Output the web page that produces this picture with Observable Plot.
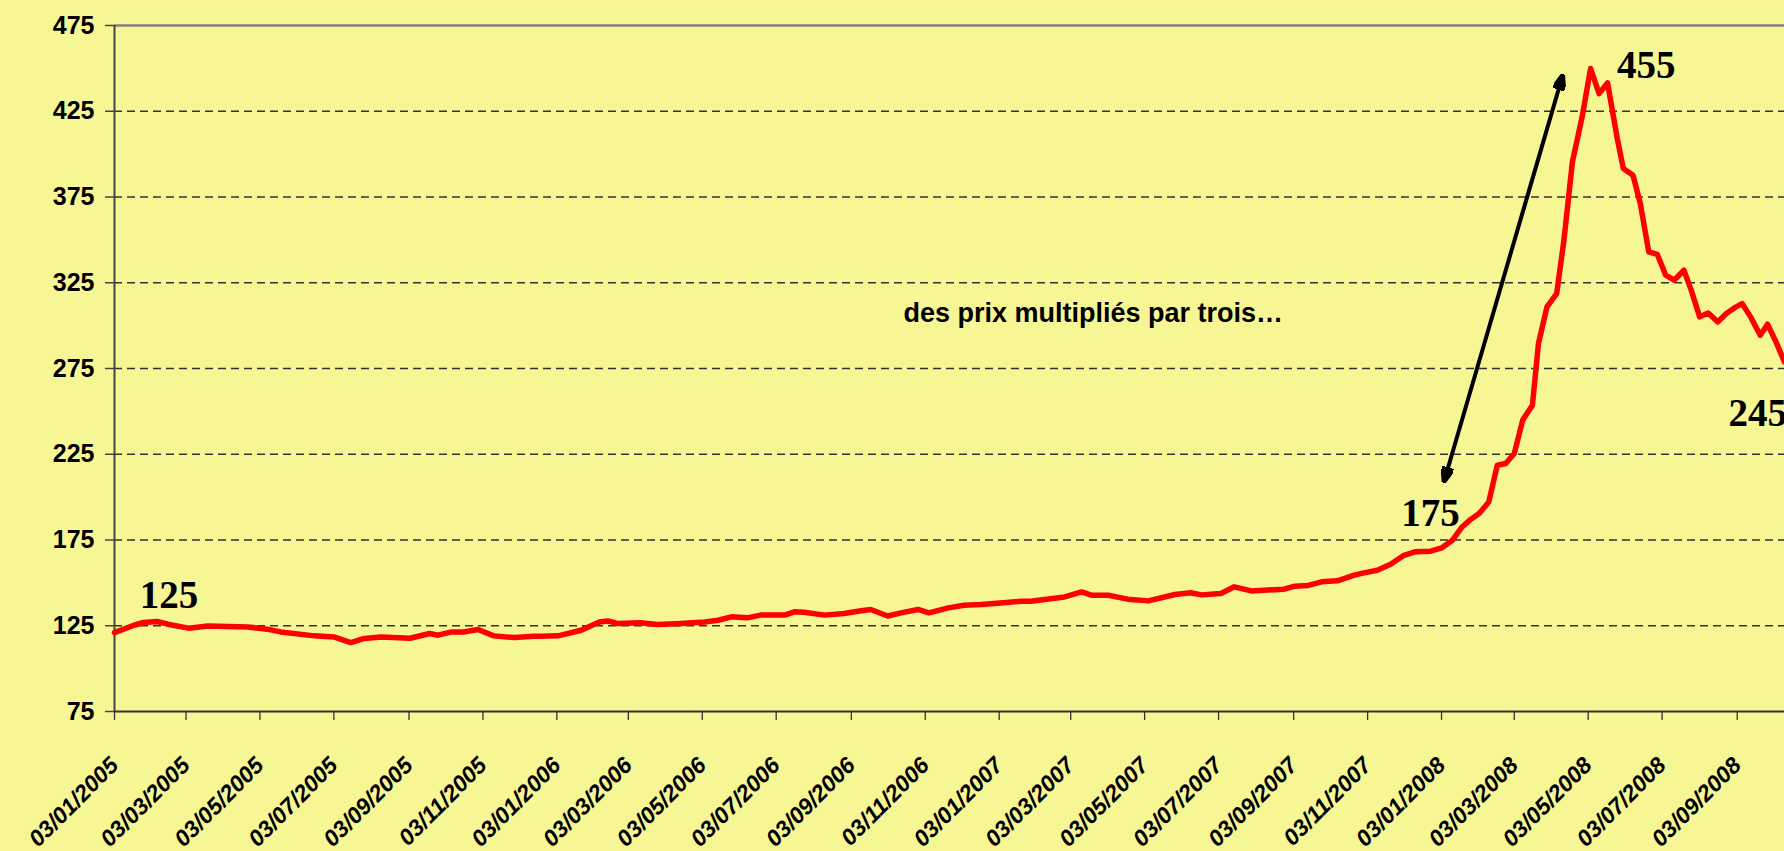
<!DOCTYPE html>
<html><head><meta charset="utf-8">
<script src="https://cdn.jsdelivr.net/npm/d3@7"></script>
<script src="https://cdn.jsdelivr.net/npm/@observablehq/plot@0.6"></script>
<style>
html,body{margin:0;padding:0;background:#F6F695;}
#chart svg{display:block;}
</style></head><body><div id="chart"></div>
<script>
// ---- data ----
const dates = [
"2005-01-03","2005-01-19","2005-01-27","2005-02-07","2005-02-16","2005-03-05","2005-03-21","2005-04-23",
"2005-05-09","2005-05-20","2005-06-17","2005-07-03","2005-07-17","2005-07-28","2005-08-11","2005-09-04",
"2005-09-20","2005-09-27","2005-10-08","2005-10-18","2005-10-30","2005-11-12","2005-11-29","2005-12-15",
"2005-12-21","2006-01-04","2006-01-23","2006-02-07","2006-02-14","2006-02-22","2006-03-13","2006-03-27",
"2006-04-15","2006-05-05","2006-05-16","2006-05-27","2006-06-09","2006-06-20","2006-07-10","2006-07-18",
"2006-07-26","2006-08-12","2006-08-28","2006-09-11","2006-09-19","2006-10-03","2006-10-14","2006-10-28",
"2006-11-06","2006-11-22","2006-12-05","2006-12-19","2007-01-04","2007-01-21","2007-01-29","2007-02-26",
"2007-03-12","2007-03-20","2007-04-03","2007-04-19","2007-05-06","2007-05-28","2007-06-10","2007-06-19",
"2007-07-05","2007-07-16","2007-07-30","2007-08-26","2007-09-04","2007-09-15","2007-09-26","2007-10-09",
"2007-10-23","2007-10-31","2007-11-11","2007-11-22","2007-12-03","2007-12-12","2007-12-25","2008-01-03",
"2008-01-12","2008-01-20","2008-01-27","2008-02-03","2008-02-11","2008-02-18","2008-02-25","2008-03-03",
"2008-03-10","2008-03-18","2008-03-23","2008-03-30","2008-04-07","2008-04-13","2008-04-20","2008-04-28",
"2008-05-05","2008-05-12","2008-05-19","2008-05-27","2008-06-01","2008-06-09","2008-06-15","2008-06-22",
"2008-06-29","2008-07-06","2008-07-13","2008-07-21","2008-07-27","2008-08-03","2008-08-10","2008-08-18",
"2008-08-25","2008-08-31","2008-09-07","2008-09-14","2008-09-22","2008-09-28","2008-10-05","2008-10-12"
];
const prices = [
121.0,125.3,126.9,127.5,125.9,123.6,124.9,124.3,
123.0,121.4,119.1,118.5,115.2,117.6,118.5,117.7,
120.5,119.5,121.4,121.4,122.8,119.1,118.1,118.9,
118.9,119.1,122.4,127.2,127.8,126.3,126.7,125.7,
126.3,127.2,128.2,130.2,129.6,131.2,131.2,133.1,
132.9,131.2,132.1,133.7,134.5,130.7,132.5,134.5,
132.5,135.4,137.0,137.4,138.3,139.3,139.3,141.8,
144.7,142.8,142.8,140.5,139.5,143.2,144.2,143.0,
143.8,147.7,145.3,146.3,148.1,148.5,150.6,151.2,
154.5,155.8,157.4,160.9,166.1,168.1,168.5,170.4,
174.9,182.6,187.0,190.4,197.2,218.6,219.6,225.4,
244.9,253.6,289.6,310.9,318.7,349.8,395.5,421.7,
449.9,435.3,441.5,409.1,391.6,387.7,371.2,343.0,
341.6,329.4,326.5,332.3,320.7,305.1,307.4,302.2,
307.1,310.0,312.9,305.1,294.4,300.8,290.5,278.8
];
const xDomain = ["2005-01-03","2008-10-12"];
const yDomain = [75, 475];
const yTicks = [75,125,175,225,275,325,375,425,475];
const gridValues = [125,175,225,275,325,375,425];
const xTicks = ["2005-01-03","2005-03-03","2005-05-03","2005-07-03","2005-09-03","2005-11-03",
"2006-01-03","2006-03-03","2006-05-03","2006-07-03","2006-09-03","2006-11-03",
"2007-01-03","2007-03-03","2007-05-03","2007-07-03","2007-09-03","2007-11-03",
"2008-01-03","2008-03-03","2008-05-03","2008-07-03","2008-09-03"];
const labelTexts = ["125","175","455","245"];
const labelDates = ["2005-02-17","2007-12-25","2008-06-20","2008-09-20"];
const labelValues = [142.8,190.5,451.4,248.8];
const noteText = "des prix multipliés par trois…";
const noteDate = "2006-10-16";
const noteValue = 307;
const arrowDates = ["2008-01-05","2008-04-12"];
const arrowValues = [209,446];

// ---- build ----
const P = s => new Date(s + "T00:00:00Z");
const series = dates.map((d, i) => ({date: P(d), price: prices[i]}));
const labels = labelTexts.map((t, i) => ({text: t, date: P(labelDates[i]), value: labelValues[i]}));
const arrow = [{x1: P(arrowDates[0]), y1: arrowValues[0], x2: P(arrowDates[1]), y2: arrowValues[1]}];
const fmt = d3.utcFormat("%d/%m/%Y");

function triMarker(color, context) {
  const ns = "http://www.w3.org/2000/svg";
  const doc = (context && context.document) || document;
  const m = doc.createElementNS(ns, "marker");
  m.setAttribute("viewBox", "0 -6 16 12");
  m.setAttribute("markerWidth", 16);
  m.setAttribute("markerHeight", 12);
  m.setAttribute("markerUnits", "userSpaceOnUse");
  m.setAttribute("refX", 15);
  m.setAttribute("refY", 0);
  m.setAttribute("orient", "auto-start-reverse");
  const p = doc.createElementNS(ns, "path");
  p.setAttribute("d", "M0,-6L16,0L0,6Z");
  p.setAttribute("fill", color);
  m.appendChild(p);
  return m;
}

const BG = "#F6F695";
const sans = "'Liberation Sans', Arial, sans-serif";
const serif = "'Liberation Serif', 'Times New Roman', serif";

const chart = Plot.plot({
  width: 1784, height: 851,
  marginLeft: 114, marginRight: 0, marginTop: 25, marginBottom: 140,
  style: {background: BG, fontFamily: sans, color: "#000", overflow: "visible"},
  x: {type: "utc", domain: xDomain.map(P)},
  y: {domain: yDomain},
  marks: [
    Plot.ruleY(gridValues, {stroke: "#333", strokeWidth: 1.4, strokeDasharray: "8,5"}),
    Plot.ruleY([yDomain[1]], {stroke: "#808080", strokeWidth: 2.5}),
    Plot.axisY({ticks: yTicks, tickSize: 9, tickPadding: 11, fontSize: 25, fontWeight: "bold", stroke: "#444", strokeWidth: 1.5, label: null}),
    Plot.axisX({ticks: xTicks.map(P), tickSize: 9, fill: "none", stroke: "#333", strokeWidth: 1.3, label: null}),
    Plot.text(xTicks, {x: d => P(d), frameAnchor: "bottom", text: d => fmt(P(d)), rotate: -45,
      textAnchor: "end", lineAnchor: "middle", dx: 0, dy: 50,
      fontFamily: sans, fontSize: 23, fontWeight: "bold", fontStyle: "italic", fill: "#000"}),
    Plot.ruleX([P(xDomain[0])], {stroke: "#444", strokeWidth: 2}),
    Plot.ruleY([yDomain[0]], {stroke: "#333", strokeWidth: 2.2}),
    Plot.line(series, {x: "date", y: "price", stroke: "#FF0000", strokeWidth: 5.5, strokeLinejoin: "round"}),
    Plot.link(arrow, {x1: "x1", y1: "y1", x2: "x2", y2: "y2", stroke: "#000", strokeWidth: 4, markerStart: triMarker, markerEnd: triMarker}),
    Plot.text(labels, {x: "date", y: "value", text: "text", fontFamily: serif, fontWeight: "bold", fontSize: 39, fill: "#000"}),
    Plot.text([noteText], {x: P(noteDate), y: noteValue, text: d => d, textAnchor: "start", fontFamily: sans, fontSize: 27, fontWeight: "bold", fill: "#000"})
  ]
});
document.getElementById("chart").appendChild(chart);
</script>
</body></html>
